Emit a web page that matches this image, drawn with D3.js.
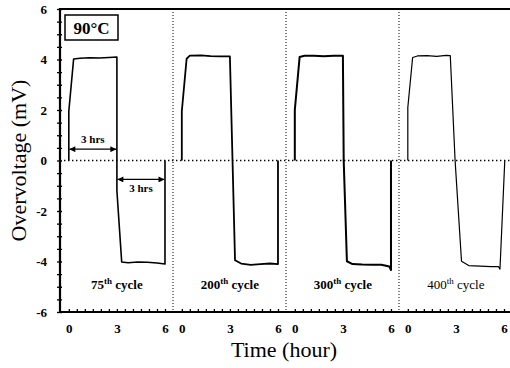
<!DOCTYPE html>
<html>
<head>
<meta charset="utf-8">
<script src="https://cdn.jsdelivr.net/npm/d3@7"></script>
<style>
  body { margin: 0; background: #fff; }
  svg, svg text { font-family: "Liberation Serif", "Times New Roman", serif; fill: #000; }
</style>
</head>
<body>
<div id="chart"></div>
<script>
// cycle panels, left to right
const cycles = ["75", "200", "300", "400"];
const yTicks = [-6, -4, -2, 0, 2, 4, 6];
const yMinor = d3.range(-6, 6.01, 0.5);
const xTicks = [0, 3, 6];
const xMinor = d3.range(0, 6.01, 0.5);

// [time (h), overvoltage (mV)]
const cycle75 = [[0, 0], [0, 1.95], [0.3, 4.02], [0.7, 4.05], [1.3, 4.07], [1.9, 4.06], [2.5, 4.08], [3.0, 4.1],
  [3.0, -1.2], [3.3, -4.02], [3.7, -4.05], [4.3, -4.02], [4.9, -4.03], [5.5, -4.06], [6.0, -4.1], [6.0, 0]];
const cycle200 = [[0, 0], [0, 1.95], [0.3, 4.03], [0.5, 4.15], [1.2, 4.16], [1.8, 4.13], [2.4, 4.12], [3.0, 4.12],
  [3.32, -3.95], [3.7, -4.08], [4.3, -4.13], [4.9, -4.1], [5.5, -4.08], [6.0, -4.1], [6.0, 0]];
const cycle300 = [[0, 0], [0, 2.0], [0.3, 4.1], [0.6, 4.15], [1.2, 4.15], [1.8, 4.13], [2.4, 4.15], [3.0, 4.15],
  [3.05, 0], [3.25, -3.99], [3.6, -4.1], [4.2, -4.12], [4.8, -4.13], [5.4, -4.13], [5.9, -4.2], [6.0, -4.34], [6.0, 0]];
const cycle400 = [[0, 0], [0, 2.1], [0.3, 4.08], [0.6, 4.14], [1.2, 4.15], [1.8, 4.12], [2.4, 4.16], [2.65, 4.15],
  [2.95, 0], [3.35, -3.99], [3.8, -4.16], [4.5, -4.18], [5.2, -4.2], [5.65, -4.2], [5.75, -4.3], [6.05, 0]];
const curves = [cycle75, cycle200, cycle300, cycle400];
const lineWidths = [1.6, 1.8, 2.0, 1.2];

const width = 510, height = 368;
const plotLeft = 60, plotTop = 9, plotBottom = 312;
const serif = '"Liberation Serif", "Times New Roman", serif';
const fmt = d => String(d);  // plain hyphen minus, like the original

const svg = d3.select("#chart").append("svg")
    .attr("width", width)
    .attr("height", height);

const y = d3.scaleLinear().domain([-6, 6]).range([plotBottom, plotTop]);
const panel = d3.scaleBand().domain(cycles).range([plotLeft, plotLeft + 113 * 4]).paddingInner(0);
const x = d3.scaleLinear().domain([-0.55, 6.5]).range([0, panel.bandwidth()]);

// zero line across all panels
svg.append("line")
    .attr("x1", plotLeft).attr("x2", width)
    .attr("y1", y(0)).attr("y2", y(0))
    .attr("stroke", "#000").attr("stroke-width", 1.4)
    .attr("stroke-dasharray", "1.4,2.6");

// panel dividers
svg.selectAll(".divider")
    .data(cycles.slice(1))
    .enter().append("line")
    .attr("class", "divider")
    .attr("x1", d => panel(d)).attr("x2", d => panel(d))
    .attr("y1", plotTop).attr("y2", plotBottom)
    .attr("stroke", "#000").attr("stroke-width", 1)
    .attr("stroke-dasharray", "1,2");

const line = d3.line().x(d => x(d[0])).y(d => y(d[1]));

const panels = svg.selectAll(".panel")
    .data(cycles)
    .enter().append("g")
    .attr("class", "panel")
    .attr("transform", d => `translate(${panel(d)},0)`);

panels.append("path")
    .attr("d", (d, i) => line(curves[i]))
    .attr("fill", "none")
    .attr("stroke", "#000")
    .attr("stroke-width", (d, i) => lineWidths[i])
    .attr("stroke-linejoin", "round");

// x axis ticks per panel
panels.append("g")
    .attr("transform", `translate(0,${plotBottom})`)
    .call(d3.axisTop(x).tickValues(xMinor).tickSize(3).tickFormat(""))
    .call(g => g.select(".domain").remove())
    .call(g => g.selectAll("line").attr("stroke-width", 1.3));

panels.append("g")
    .attr("transform", `translate(0,${plotBottom})`)
    .call(d3.axisBottom(x).tickValues(xTicks).tickSize(0).tickPadding(12).tickFormat(fmt))
    .call(g => g.select(".domain").remove())
    .call(g => g.attr("font-family", null))
    .call(g => g.selectAll("text")
        .style("font-family", serif)
        .style("font-size", "13px").style("font-weight", "bold"));

// cycle labels
const lab = panels.append("text")
    .attr("x", x(3))
    .attr("y", 289)
    .attr("text-anchor", "middle")
    .style("font-size", "13px")
    .style("font-weight", (d, i) => i === 3 ? "normal" : "bold");
lab.append("tspan").text(d => d);
lab.append("tspan").style("font-size", "9px").attr("dy", -5).text("th");
lab.append("tspan").attr("dy", 5).text(" cycle");

// y axis
svg.append("g")
    .attr("transform", `translate(${plotLeft},0)`)
    .call(d3.axisLeft(y).tickValues(yMinor).tickSize(3).tickFormat(""))
    .call(g => g.select(".domain").remove())
    .call(g => g.selectAll("line").attr("stroke-width", 1.3));
svg.append("g")
    .attr("transform", `translate(${plotLeft},0)`)
    .call(d3.axisRight(y).tickValues(yMinor).tickSize(2).tickFormat(""))
    .call(g => g.select(".domain").remove())
    .call(g => g.selectAll("line").attr("stroke-width", 1.3));
svg.append("g")
    .attr("transform", `translate(${plotLeft},0)`)
    .call(d3.axisLeft(y).tickValues(yTicks).tickSize(0).tickPadding(13).tickFormat(fmt))
    .call(g => g.select(".domain").remove())
    .call(g => g.attr("font-family", null))
    .call(g => g.selectAll("text")
        .style("font-family", serif)
        .style("font-size", "13px").style("font-weight", "bold"));

// frame: left, bottom, top
svg.append("path")
    .attr("d", `M${width},${plotTop}H${plotLeft}V${plotBottom}H${width}`)
    .attr("fill", "none")
    .attr("stroke", "#000")
    .attr("stroke-width", 2.2);

// 3 hrs annotations in the first panel
const defs = svg.append("defs");
defs.append("marker")
    .attr("id", "arr")
    .attr("viewBox", "0 0 10 10")
    .attr("refX", 10).attr("refY", 5)
    .attr("markerWidth", 9).attr("markerHeight", 6)
    .attr("markerUnits", "userSpaceOnUse")
    .attr("orient", "auto-start-reverse")
    .append("path").attr("d", "M0,0L10,5L0,10Z").attr("fill", "#000");

const spans = [[0, 3, 0.45], [3, 6, -0.75]];
const p1 = svg.append("g").attr("transform", `translate(${panel("75")},0)`);
p1.selectAll(".span")
    .data(spans)
    .enter().append("line")
    .attr("x1", d => x(d[0]) + 0.5).attr("x2", d => x(d[1]) - 0.5)
    .attr("y1", d => y(d[2])).attr("y2", d => y(d[2]))
    .attr("stroke", "#000").attr("stroke-width", 1.3)
    .attr("marker-start", "url(#arr)").attr("marker-end", "url(#arr)");
p1.selectAll(".spanlab")
    .data(spans)
    .enter().append("text")
    .attr("x", d => x((d[0] + d[1]) / 2))
    .attr("y", (d, i) => i === 0 ? y(d[2]) - 6 : y(d[2]) + 13)
    .attr("text-anchor", "middle")
    .style("font-size", "11px").style("font-weight", "bold")
    .text("3 hrs");

// temperature box
svg.append("rect")
    .attr("x", 65).attr("y", 15).attr("width", 53).attr("height", 25)
    .attr("fill", "#fff").attr("stroke", "#000").attr("stroke-width", 1.5);
svg.append("text")
    .attr("x", 91.5).attr("y", 33.5)
    .attr("text-anchor", "middle")
    .style("font-size", "17px").style("font-weight", "bold")
    .text("90°C");

// axis titles
svg.append("text")
    .attr("transform", `translate(26,${(plotTop + plotBottom) / 2}) rotate(-90)`)
    .attr("text-anchor", "middle")
    .style("font-size", "22px")
    .text("Overvoltage (mV)");
svg.append("text")
    .attr("x", 284).attr("y", 357)
    .attr("text-anchor", "middle")
    .style("font-size", "22px")
    .text("Time (hour)");
</script>
</body>
</html>
